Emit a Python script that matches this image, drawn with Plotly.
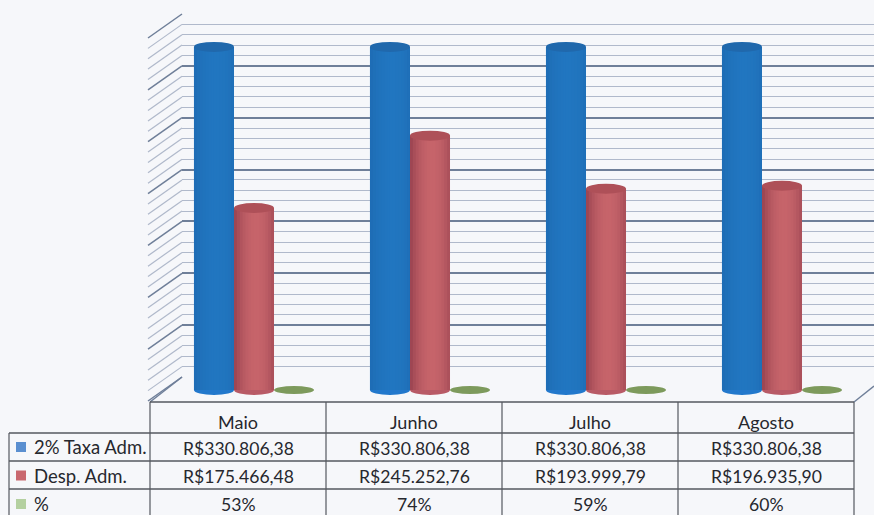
import plotly.graph_objects as go

W, H = 874, 515
categories = ["Maio", "Junho", "Julho", "Agosto"]
series_names = ["2% Taxa Adm.", "Desp. Adm.", "%"]
taxa = [330806.38, 330806.38, 330806.38, 330806.38]
desp = [175466.48, 245252.76, 193999.79, 196935.90]
pct = [0.53, 0.74, 0.59, 0.60]
taxa_labels = ["R$330.806,38"] * 4
desp_labels = ["R$175.466,48", "R$245.252,76", "R$193.999,79", "R$196.935,90"]
pct_labels = ["53%", "74%", "59%", "60%"]
axis_max = 350000
major_step = 50000
minor_step = 10000

INK = "#55585f"
FONT = "Lato"
MAJOR = "#6f7f99"
MINOR = "#b0b9cb"
px = lambda v: v / W
py = lambda v: 1 - v / H

back_top, back_bot = 14, 377
bar_top, bar_bot = 27, 390
bar_pad = 14
unit = (back_bot - back_top) / axis_max

fig = go.Figure()
# back wall subplot comes first so that it stays under the bars
fig.add_scatter(x=[0], y=[0], xaxis="x", yaxis="y", mode="markers", marker_opacity=0, hoverinfo="skip")
fig.add_bar(name=series_names[0], x=categories, y=taxa, marker_color="#1f6fb8", marker_line_width=0, xaxis="x2", yaxis="y2")
fig.add_bar(name=series_names[1], x=categories, y=desp, marker_color="#b5545c", marker_line_width=0, xaxis="x2", yaxis="y2")
fig.add_bar(name=series_names[2], x=categories, y=pct, marker_color="#7d9a5c", marker_line_width=0, xaxis="x2", yaxis="y2")

shapes = []
ann = []

def line(x0, y0, x1, y1, color=INK, width=1, dash="solid", layer="below"):
    shapes.append(dict(type="line", xref="paper", yref="paper", x0=px(x0), x1=px(x1), y0=py(y0), y1=py(y1),
                       line=dict(color=color, width=width, dash=dash), layer=layer))

v = 0
while v <= axis_max:
    y = back_bot - v * unit
    major = v % major_step == 0
    line(182, y, 148, y + 24, MAJOR if major else MINOR, 1.5 if major else 1.2)
    v += minor_step

bw = (1 - 0.318) / 3
ell_h = 5 / unit

def mix(a, b, t):
    return tuple(round(a[i] + (b[i] - a[i]) * t) for i in range(3))

def cylinder(i, k, value, edge, mid, top, bottom):
    cx = i + (k - 1) * bw
    shapes.append(dict(type="circle", xref="x2", yref="y2", x0=cx - bw / 2, x1=cx + bw / 2,
                       y0=-ell_h, y1=ell_h, fillcolor=bottom, line_width=0, layer="above"))
    n = 14
    for s in range(n):
        t = abs((s + 0.5) / n - 0.55) / 0.55
        c = mix(mid, edge, min(1, t) ** 2)
        shapes.append(dict(type="rect", xref="x2", yref="y2", x0=cx - bw / 2 + s * bw / n,
                           x1=cx - bw / 2 + (s + 1) * bw / n + (bw / n * 0.3 if s < n - 1 else 0), y0=0, y1=value,
                           fillcolor="rgb(%d,%d,%d)" % c, line_width=0, layer="above"))
    shapes.append(dict(type="circle", xref="x2", yref="y2", x0=cx - bw / 2, x1=cx + bw / 2,
                       y0=value - ell_h, y1=value + ell_h, fillcolor=top, line_width=0, layer="above"))

for i in range(4):
    cylinder(i, 0, taxa[i], (30, 108, 180), (33, 118, 192), "#2068ac", "#2278cc")
for i in range(4):
    cylinder(i, 1, desp[i], (152, 66, 80), (198, 100, 106), "#ae5058", "#b85a66")
for i in range(4):
    cx = i + bw
    shapes.append(dict(type="circle", xref="x2", yref="y2", x0=cx - bw / 2, x1=cx + bw / 2,
                       y0=pct[i] - 4 / unit, y1=pct[i] + 4 / unit, fillcolor="#7d9a5c", line_width=0, layer="above"))

col_x = [150, 326, 502, 678, 854]
row_y = [402, 433, 461, 489, 515]
line(150, 402, 854, 402, INK, 1.5, layer="above")
for y in row_y[1:4]:
    line(9, y, 854, y, INK, 1.5, layer="above")
for x in col_x:
    line(x, 402, x, 515, INK, 1.2, layer="above")
line(9, 433, 9, 515, INK, 1.2, layer="above")
line(150, 402, 182, 377, MAJOR, 1.5)
line(854, 402, 874, 386, MAJOR, 1.5)

def text(x, y, s, anchor="center", size=17.6):
    ann.append(dict(xref="paper", yref="paper", x=px(x), y=py(y), text=s, showarrow=False, xanchor=anchor,
                    yanchor="middle", font=dict(family=FONT, size=size, color="#26282e")))

for i, c in enumerate(categories):
    cx = (col_x[i] + col_x[i + 1]) / 2
    text(cx, 422, c, size=18)
    text(cx, 448, taxa_labels[i])
    text(cx, 476, desp_labels[i])
    text(cx, 504, pct_labels[i])

swatches = ["#5b8fd0", "#c9686f", "#b4d0a0"]
for j, (name, col) in enumerate(zip(series_names, swatches)):
    yc = [447, 475.5, 504][j]
    shapes.append(dict(type="rect", xref="paper", yref="paper", x0=px(16), x1=px(26), y0=py(yc - 5), y1=py(yc + 5),
                       fillcolor=col, line_width=0, layer="above"))
    text(32, yc, name, "left", size=18.5)

fig.update_layout(
    width=W, height=H, margin=dict(l=0, r=0, t=0, b=0), autosize=False,
    paper_bgcolor="#f6f7fa", plot_bgcolor="rgba(0,0,0,0)", showlegend=False,
    barmode="group", bargap=0.318, bargroupgap=0,
    shapes=shapes, annotations=ann,
    xaxis=dict(domain=[px(182), 1], anchor="y", showgrid=False, showticklabels=False, zeroline=False, ticks="", range=[0, 1]),
    yaxis=dict(domain=[py(back_bot), py(back_top)], anchor="x", range=[0, axis_max], tick0=0, dtick=major_step,
               showticklabels=False, ticks="", zeroline=False, showgrid=True, gridcolor=MAJOR, gridwidth=1.5,
               minor=dict(dtick=minor_step, showgrid=True, gridcolor=MINOR, gridwidth=1.2, griddash="solid", ticks="")),
    xaxis2=dict(domain=[px(166), px(870)], anchor="y2", type="category", showgrid=False, showticklabels=False, zeroline=False, ticks="", showline=False),
    yaxis2=dict(domain=[py(bar_bot + bar_pad), py(bar_top)], anchor="x2", range=[-bar_pad / unit, axis_max], showgrid=False,
                showticklabels=False, ticks="", zeroline=False),
)
fig.write_html("out.html", config={"displayModeBar": False},
               post_script="document.body.style.margin='0';document.body.style.overflow='hidden';document.documentElement.style.overflow='hidden';")
